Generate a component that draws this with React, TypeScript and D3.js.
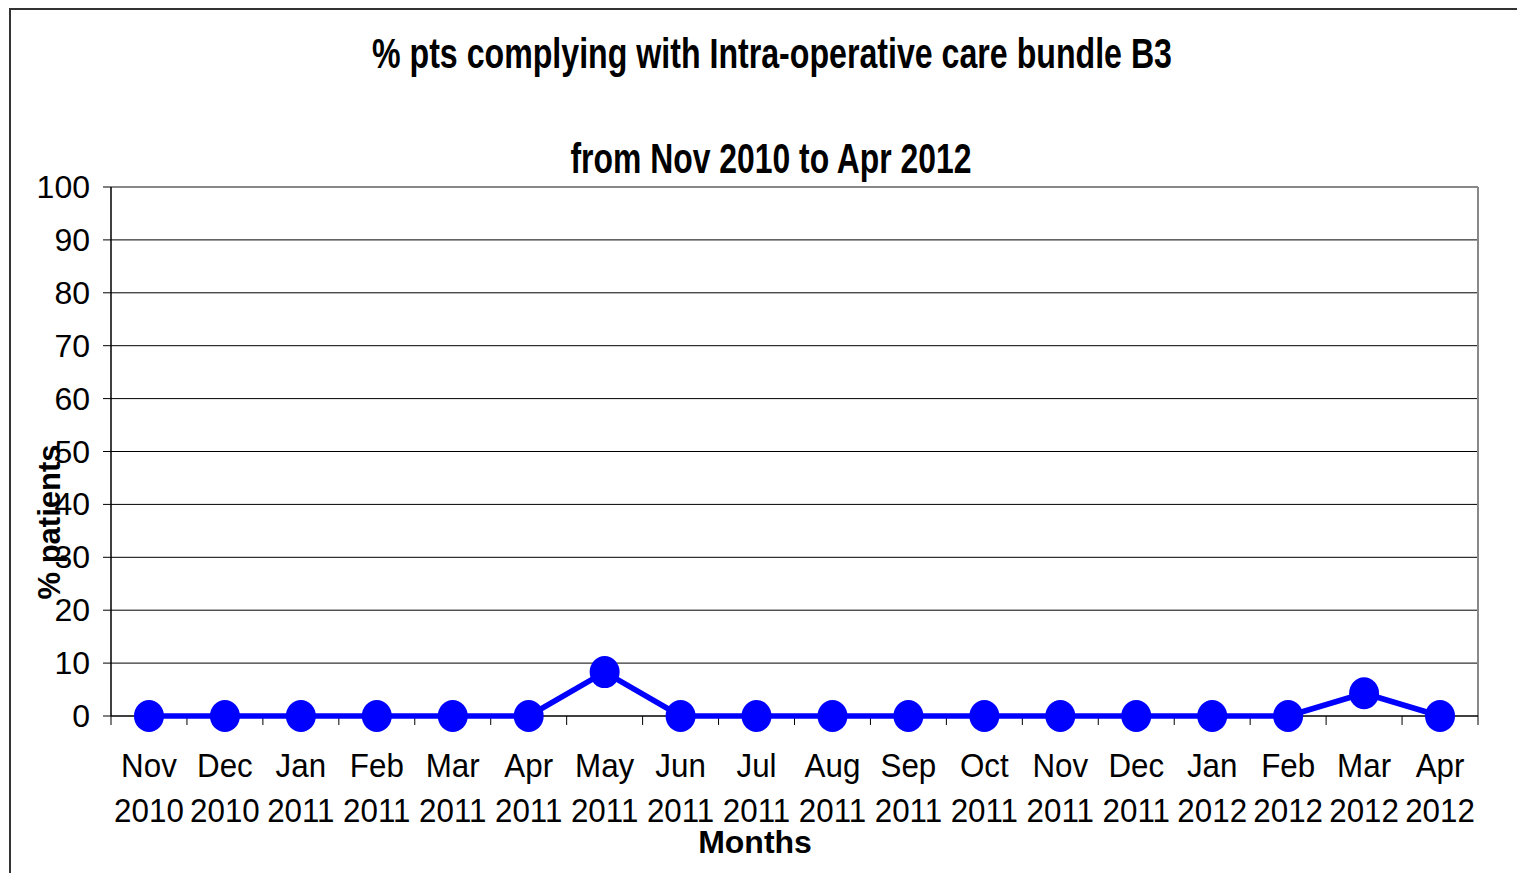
import React from "react";
import * as d3 from "d3";

// Monthly compliance with Intra-operative care bundle B3
const months = [
  "Nov 2010", "Dec 2010", "Jan 2011", "Feb 2011", "Mar 2011", "Apr 2011",
  "May 2011", "Jun 2011", "Jul 2011", "Aug 2011", "Sep 2011", "Oct 2011",
  "Nov 2011", "Dec 2011", "Jan 2012", "Feb 2012", "Mar 2012", "Apr 2012",
];
const compliance = [0, 0, 0, 0, 0, 0, 8.3, 0, 0, 0, 0, 0, 0, 0, 0, 0, 4.3, 0];
const yTicks = [0, 10, 20, 30, 40, 50, 60, 70, 80, 90, 100];

const titleLines = [
  "% pts complying with Intra-operative care bundle B3",
  "from Nov 2010 to Apr 2012",
];

const W = 1517;
const H = 873;
const plot = { left: 111, right: 1478, top: 187, bottom: 716 };
const FONT = "'Liberation Sans', Arial, Helvetica, sans-serif";
const NARROW = "'Liberation Sans Narrow', 'Liberation Sans', Arial, sans-serif";

export default function App() {
  const x = d3
    .scaleBand<string>()
    .domain(months)
    .range([plot.left, plot.right])
    .paddingInner(0)
    .paddingOuter(0);
  const y = d3.scaleLinear().domain([0, 100]).range([plot.bottom, plot.top]);
  const cx = (m: string) => (x(m) as number) + x.bandwidth() / 2;

  const line = d3
    .line<number>()
    .x((_, i) => cx(months[i]))
    .y((d) => y(d));

  const boundaries = months.map((m) => x(m) as number).concat([plot.right]);

  return (
    <svg
      width={W}
      height={H}
      style={{ position: "absolute", left: 0, top: 0, background: "#fff" }}
    >
      {/* chart frame */}
      <rect x={10} y={9} width={W + 20} height={H + 20} fill="#fff" stroke="#333" strokeWidth={2} />

      {/* title */}
      <text
        x={772}
        y={68}
        textAnchor="middle"
        fontFamily={NARROW}
        fontWeight="bold"
        fontSize={43}
        textLength={800}
        lengthAdjust="spacingAndGlyphs"
        fill="#000"
      >
        {titleLines[0]}
      </text>
      <text
        x={771}
        y={173}
        textAnchor="middle"
        fontFamily={NARROW}
        fontWeight="bold"
        fontSize={43}
        textLength={401}
        lengthAdjust="spacingAndGlyphs"
        fill="#000"
      >
        {titleLines[1]}
      </text>

      {/* gridlines */}
      {yTicks.filter((t) => t > 0 && t < 100).map((t) => (
        <line key={t} x1={plot.left} x2={plot.right} y1={y(t)} y2={y(t)} stroke="#000" strokeWidth={1} />
      ))}

      {/* plot area border (top and right) */}
      <line x1={plot.left} x2={plot.right} y1={y(100)} y2={y(100)} stroke="#888" strokeWidth={2} />
      <line x1={plot.right} x2={plot.right} y1={y(100)} y2={plot.bottom} stroke="#888" strokeWidth={2} />

      {/* y axis */}
      <line x1={plot.left} x2={plot.left} y1={plot.top} y2={plot.bottom} stroke="#000" strokeWidth={1.5} />
      {yTicks.map((t) => (
        <g key={t}>
          <line x1={plot.left - 8} x2={plot.left} y1={y(t)} y2={y(t)} stroke="#000" strokeWidth={1} />
          <text
            x={90}
            y={y(t) + 11}
            textAnchor="end"
            fontFamily={FONT}
            fontSize={32}
            fill="#000"
          >
            {t}
          </text>
        </g>
      ))}

      {/* x axis */}
      <line x1={plot.left} x2={plot.right} y1={plot.bottom} y2={plot.bottom} stroke="#000" strokeWidth={1.5} />
      {boundaries.map((b, i) => (
        <line key={i} x1={b} x2={b} y1={plot.bottom} y2={plot.bottom + 9} stroke="#000" strokeWidth={1} />
      ))}
      {months.map((m) => {
        const [mon, yr] = m.split(" ");
        return (
          <g key={m} transform={`translate(${cx(m)},0) scale(0.95,1)`}>
            <text x={0} y={777} textAnchor="middle" fontFamily={FONT} fontSize={33} fill="#000">
              {mon}
            </text>
            <text x={0} y={822} textAnchor="middle" fontFamily={FONT} fontSize={33} fill="#000">
              {yr}
            </text>
          </g>
        );
      })}

      {/* axis titles */}
      <text x={755} y={853} textAnchor="middle" fontFamily={FONT} fontWeight="bold" fontSize={32} fill="#000">
        Months
      </text>
      <text
        transform="translate(60,522) rotate(-90)"
        textAnchor="middle"
        fontFamily={FONT}
        fontWeight="bold"
        fontSize={31}
        fill="#000"
      >
        % patients
      </text>

      {/* series */}
      <path d={line(compliance) || ""} fill="none" stroke="#0000FF" strokeWidth={5.5} strokeLinejoin="round" />
      {compliance.map((v, i) => (
        <ellipse key={i} cx={cx(months[i])} cy={y(v)} rx={15} ry={16} fill="#0000FF" />
      ))}
    </svg>
  );
}
